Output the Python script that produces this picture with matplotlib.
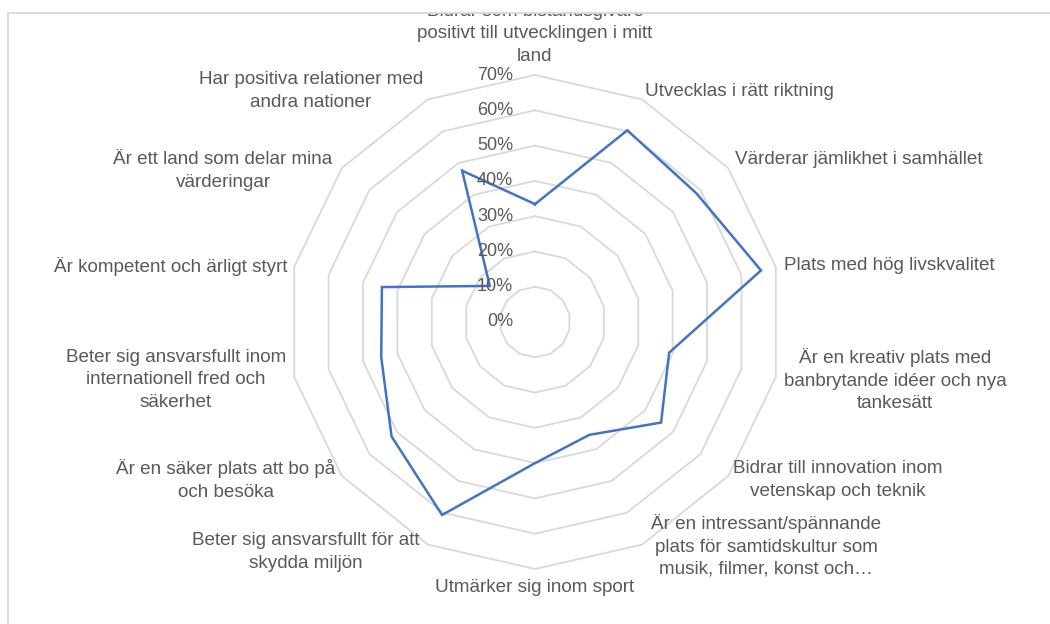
import numpy as np
import matplotlib
matplotlib.use("Agg")
import matplotlib.pyplot as plt
from matplotlib.patches import Rectangle

plt.rcParams['font.family'] = ['Liberation Sans', 'DejaVu Sans']

categories = [
    "Bidrar som biståndsgivare\npositivt till utvecklingen i mitt\nland",
    "Utvecklas i rätt riktning",
    "Värderar jämlikhet i samhället",
    "Plats med hög livskvalitet",
    "Är en kreativ plats med\nbanbrytande idéer och nya\ntankesätt",
    "Bidrar till innovation inom\nvetenskap och teknik",
    "Är en intressant/spännande\nplats för samtidskultur som\nmusik, filmer, konst och…",
    "Utmärker sig inom sport",
    "Beter sig ansvarsfullt för att\nskydda miljön",
    "Är en säker plats att bo på\noch besöka",
    "Beter sig ansvarsfullt inom\ninternationell fred och\nsäkerhet",
    "Är kompetent och ärligt styrt",
    "Är ett land som delar mina\nvärderingar",
    "Har positiva relationer med\nandra nationer",
]
values = [0.334, 0.603, 0.585, 0.657, 0.39, 0.457, 0.355, 0.40,
          0.607, 0.52, 0.447, 0.445, 0.164, 0.476]
tick_values = [0.0, 0.1, 0.2, 0.3, 0.4, 0.5, 0.6, 0.7]
tick_labels = ["0%", "10%", "20%", "30%", "40%", "50%", "60%", "70%"]

# label layout (pixel positions in the 1050x624 image, alignment)
label_layout = [
    (535, 33, 'center'), (645, 91, 'left'), (735, 160, 'left'),
    (784, 266, 'left'), (895, 380, 'center'), (838, 480, 'center'),
    (766, 546, 'center'), (535, 588, 'center'), (306, 552, 'center'),
    (226, 480, 'center'), (176, 380, 'center'), (287, 266, 'right'),
    (223, 171, 'center'), (311, 91, 'center'),
]

W, H = 1050, 624
fig = plt.figure(figsize=(W / 100, H / 100), dpi=100)
fig.patch.set_facecolor('white')

cx, cy, R = 535, 322, 247
ax = fig.add_axes([(cx - R) / W, (H - cy - R) / H, 2 * R / W, 2 * R / H],
                  projection='polar')
ax.set_theta_zero_location('N')
ax.set_theta_direction(-1)
ax.set_ylim(0, 0.7)
ax.grid(False)
ax.spines['polar'].set_visible(False)
ax.set_xticks([])
ax.set_yticks([])
ax.patch.set_alpha(0)

n = len(categories)
theta = np.arange(n) * 2 * np.pi / n
theta_closed = np.append(theta, theta[0])

grid_color = '#d9d9d9'
text_color = '#595959'
fs = 13.6
for lv in tick_values[1:]:
    ax.plot(theta_closed, [lv] * (n + 1), color=grid_color, lw=1.3,
            zorder=1, clip_on=False)

vals_closed = values + [values[0]]
ax.plot(theta_closed, vals_closed, color='#4472C4', lw=1.8, zorder=3,
        clip_on=False, solid_joinstyle='miter')

for lv, lab in zip(tick_values, tick_labels):
    ax.annotate(lab, xy=(0, lv), xytext=(-22, 0), textcoords='offset pixels',
                ha='right', va='center', fontsize=13, color=text_color,
                zorder=4, annotation_clip=False)

# chart area border
border_x0, border_y0 = 8, 13
fig.patches.append(Rectangle((border_x0 / W, -0.1), 1.2, 1 - border_y0 / H + 0.1,
                             transform=fig.transFigure, fill=False,
                             edgecolor='#d9d9d9', lw=1.3, zorder=5))
clip_rect = Rectangle((0, 0), 1, 1 - border_y0 / H, transform=fig.transFigure)

for lab, (x, y, ha) in zip(categories, label_layout):
    t = fig.text(x / W, 1 - y / H, lab, ha=ha, va='center', ma='center',
                 fontsize=fs, color=text_color, linespacing=1.42)
    t.set_clip_path(clip_rect)

fig.savefig('out.png', dpi=100)
